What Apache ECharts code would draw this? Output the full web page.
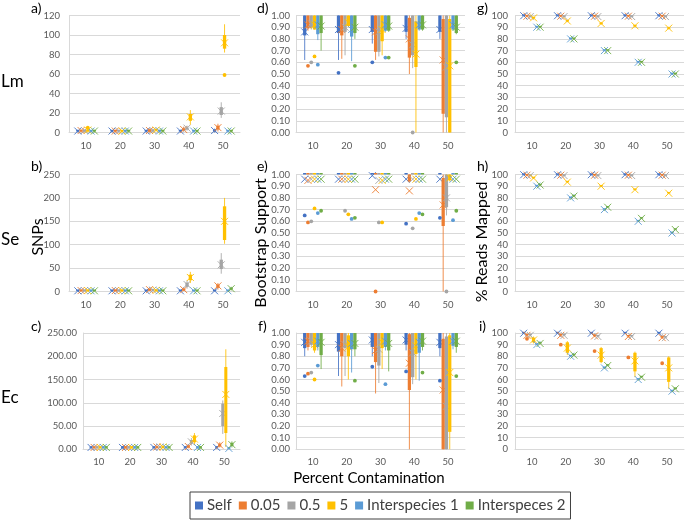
<!DOCTYPE html>
<html><head><meta charset="utf-8">
<script src="https://cdn.jsdelivr.net/npm/echarts@6/dist/echarts.min.js"></script>
<style>html,body{margin:0;padding:0;background:#fff}#c{width:685px;height:523px}</style>
</head><body><div id="c"></div>
<script>
const categories = ['10', '20', '30', '40', '50'];
const groups = ['Self', '0.05', '0.5', '5', 'Interspecies 1', 'Interspeces 2'];
const colors = ['#4472C4', '#ED7D31', '#A5A5A5', '#FFC000', '#5B9BD5', '#70AD47'];

// Each panel: one row per group, one box per category: [min, q1, median, q3, max, mean]
const lmSNPs = [
  [[0,1,1,2,3,1.5],[0,1,1,2,3,1.5],[0,1,1,2,3,1.5],[0,1,1,2,3,1.5],[0,1,2,3,4,2]],
  [[0,1,2,2,3,2],[0,1,1,2,3,1.5],[0,1,2,3,4,2],[1,2,3,4,6,3],[1,3,5,7,9,5]],
  [[0,1,2,3,3,2],[0,1,1,2,3,1.5],[0,1,2,3,4,2],[2,3,4,5,7,4.5],[15,18,22,26,31,22]],
  [[0,1,2,3,4,2.5],[0,1,2,2,3,1.5],[1,2,3,3,4,2.5],[8,12,15,19,23,16],[82,86,92,100,111,92]],
  [[0,1,1,2,3,1.5],[0,1,1,2,3,1.5],[0,1,1,2,3,1.5],[0,1,1,2,3,1.5],[0,1,1,2,3,1.5]],
  [[0,1,1,2,3,1.5],[0,1,1,2,3,1.5],[0,1,1,2,3,1.5],[0,1,1,2,3,1.5],[0,1,1,2,3,1.5]]
];
const lmSNPsOut = [[0,3,5],[4,3,59]];

const seSNPs = [
  [[0,1,1,2,3,1.5],[0,1,1,2,3,1.5],[0,1,1,2,3,1.5],[0,1,1,2,3,1.5],[0,1,1,2,3,1.5]],
  [[0,1,2,3,4,2],[0,1,2,3,4,2],[1,2,4,5,7,4],[1,2,4,6,8,4],[4,8,12,15,18,12]],
  [[0,1,2,3,4,2],[0,1,2,3,4,2],[1,2,3,4,6,3],[6,10,14,19,24,15],[38,48,58,68,82,57]],
  [[0,1,2,3,4,2],[0,1,2,3,4,2],[0,1,2,3,5,2.5],[18,24,30,36,42,30],[102,110,150,182,200,150]],
  [[0,1,1,2,3,1.5],[0,1,1,2,3,1.5],[0,1,1,2,3,1.5],[0,1,1,2,3,1.5],[0,1,1,2,3,1.5]],
  [[0,1,1,2,3,1.5],[0,1,1,2,3,1.5],[0,1,1,2,3,1.5],[0,1,1,2,3,1.5],[2,4,6,8,10,6]]
];
const seSNPsOut = [];

const ecSNPs = [
  [[1,3,4,5,7,4],[1,3,4,5,7,4],[1,3,4,5,7,4],[1,3,4,5,7,4],[1,3,4,5,7,4]],
  [[1,3,4,5,7,4],[1,3,4,5,7,4],[1,3,5,6,8,5],[2,4,6,8,10,6],[4,6,9,12,15,9]],
  [[1,3,4,5,7,4],[1,3,4,5,7,4],[1,3,4,6,8,5],[8,12,16,20,24,16],[33,50,75,98,105,77]],
  [[1,3,4,5,7,4],[1,3,4,5,7,4],[1,3,5,7,9,5],[10,15,22,30,35,22],[5,35,110,177,215,118]],
  [[1,3,4,5,7,4],[1,3,4,5,7,4],[1,3,4,5,7,4],[1,3,4,5,7,4],[0,1,2,3,4,2]],
  [[1,3,4,5,7,4],[1,3,4,5,7,4],[1,3,4,5,7,4],[1,3,4,5,7,4],[4,7,10,14,17,10]]
];
const ecSNPsOut = [];

const lmBoot = [
  [[0.62,0.83,0.95,1,1,0.86],[0.62,0.85,0.95,1,1,0.88],[0.76,0.86,0.95,1,1,0.88],[0.80,0.86,0.95,1,1,0.89],[0.80,0.86,0.95,1,1,0.88]],
  [[0.87,0.89,0.95,1,1,0.92],[0.63,0.83,0.93,1,1,0.88],[0.62,0.69,0.88,1,1,0.86],[0.50,0.64,0.85,0.98,1,0.80],[0,0.16,0.70,0.97,1,0.62]],
  [[0.88,0.90,0.95,1,1,0.93],[0.66,0.86,0.95,1,1,0.90],[0.65,0.69,0.90,1,1,0.86],[0.55,0.66,0.85,1,1,0.75],[0,0.13,0.70,1,1,0.56]],
  [[0.88,0.88,0.95,1,1,0.92],[0.90,0.91,0.97,1,1,0.94],[0.66,0.78,0.92,1,1,0.88],[0,0.56,0.80,0.95,1,0.67],[0,0,0.75,0.97,1,0.57]],
  [[0.79,0.84,0.95,1,1,0.92],[0.61,0.82,0.93,1,1,0.88],[0.86,0.87,0.95,1,1,0.92],[0.87,0.88,0.95,1,1,0.92],[0.87,0.88,0.95,1,1,0.92]],
  [[0.70,0.85,0.95,1,1,0.91],[0.80,0.85,0.95,1,1,0.90],[0.86,0.87,0.95,1,1,0.91],[0.87,0.88,0.95,1,1,0.92],[0.84,0.85,0.95,1,1,0.90]]
];
const lmBootOut = [[0,1,0.57],[0,2,0.60],[0,3,0.65],[0,4,0.58],[1,0,0.51],[1,5,0.57],[2,0,0.60],[2,4,0.64],[2,5,0.64],[3,2,0.00],[4,5,0.60]];

const seBoot = [
  [[1,1,1,1,1,0.96],[1,1,1,1,1,0.96],[1,1,1,1,1,0.99],[1,1,1,1,1,0.96],[1,1,1,1,1,0.96]],
  [[1,1,1,1,1,0.95],[1,1,1,1,1,0.96],[1,1,1,1,1,0.87],[0.93,0.94,1,1,1,0.86],[0,0.56,0.90,0.97,1,0.74]],
  [[1,1,1,1,1,0.96],[1,1,1,1,1,0.96],[1,1,1,1,1,0.95],[1,1,1,1,1,0.96],[0.65,0.72,0.90,1,1,0.80]],
  [[1,1,1,1,1,0.96],[1,1,1,1,1,0.96],[1,1,1,1,1,0.95],[1,1,1,1,1,0.96],[0.94,0.95,1,1,1,0.97]],
  [[1,1,1,1,1,0.96],[1,1,1,1,1,0.96],[1,1,1,1,1,0.96],[1,1,1,1,1,0.96],[1,1,1,1,1,0.96]],
  [[1,1,1,1,1,0.96],[1,1,1,1,1,0.96],[1,1,1,1,1,0.96],[1,1,1,1,1,0.96],[1,1,1,1,1,0.96]]
];
const seBootOut = [[0,0,0.65],[0,1,0.59],[0,2,0.60],[0,3,0.71],[0,4,0.67],[0,5,0.69],
  [1,2,0.69],[1,3,0.66],[1,4,0.62],[1,5,0.63],[2,1,0.00],[2,2,0.59],[2,3,0.59],
  [3,0,0.58],[3,2,0.54],[3,3,0.62],[3,4,0.67],[3,5,0.66],[4,0,0.63],[4,2,0.00],[4,4,0.61],[4,5,0.69]];

const ecBoot = [
  [[0.80,0.87,0.95,1,1,0.92],[0.63,0.84,0.93,1,1,0.90],[0.80,0.88,0.96,1,1,0.94],[0.85,0.90,0.97,1,1,0.94],[0.80,0.87,0.95,1,1,0.92]],
  [[0.85,0.88,0.95,1,1,0.93],[0.54,0.80,0.92,1,1,0.87],[0.48,0.75,0.90,1,1,0.85],[0,0.51,0.85,0.99,1,0.74],[0,0,0.55,0.95,1,0.51]],
  [[0.88,0.90,0.96,1,1,0.93],[0.63,0.87,0.95,1,1,0.90],[0.57,0.72,0.90,1,1,0.86],[0.56,0.62,0.88,1,1,0.83],[0,0,0.30,0.97,1,0.37]],
  [[0.83,0.85,0.93,1,1,0.90],[0.60,0.80,0.92,0.98,1,0.88],[0.69,0.87,0.95,1,1,0.92],[0.60,0.82,0.93,1,1,0.89],[0,0.15,0.80,0.98,1,0.66]],
  [[0.85,0.88,0.95,1,1,0.93],[0.66,0.86,0.95,1,1,0.91],[0.85,0.88,0.95,1,1,0.93],[0.59,0.83,0.95,1,1,0.92],[0.86,0.89,0.96,1,1,0.93]],
  [[0.69,0.81,0.95,1,1,0.92],[0.80,0.86,0.95,1,1,0.91],[0.67,0.85,0.95,1,1,0.91],[0.85,0.88,0.96,1,1,0.93],[0.83,0.88,0.96,1,1,0.93]]
];
const ecBootOut = [[0,0,0.63],[0,1,0.65],[0,2,0.66],[0,3,0.60],[0,4,0.72],[1,5,0.59],[2,0,0.71],[2,4,0.56],[3,0,0.67],[3,5,0.66],[4,0,0.59],[4,5,0.63]];

const lmReads = [
  [[99.5,99.7,100,100,100,99.8],[99.5,99.7,100,100,100,99.8],[99.5,99.7,100,100,100,99.8],[99.5,99.7,100,100,100,99.8],[99.5,99.7,100,100,100,99.8]],
  [[99,99.2,99.6,100,100,99.4],[99,99.2,99.6,100,100,99.4],[99,99.2,99.6,100,100,99.4],[99,99.2,99.6,100,100,99.4],[99,99.2,99.6,100,100,99.4]],
  [[98.5,98.8,99.2,99.6,100,99.1],[98.5,98.8,99.2,99.6,100,99.1],[98.5,98.8,99.2,99.6,100,99.1],[98.5,98.8,99.2,99.6,100,99.1],[98.5,98.8,99.2,99.6,100,99.1]],
  [[97,97.5,98,98.5,99,98],[94.3,94.8,95.3,95.8,96.3,95.3],[92,92.7,93.2,93.8,94.5,93.2],[90,90.6,91.2,91.8,92.4,91.2],[88,88.6,89.2,89.8,90.4,89.2]],
  [[89.8,89.9,90,90.1,90.2,90],[79.8,79.9,80,80.1,80.2,80],[69.8,69.9,70,70.1,70.2,70],[59.8,59.9,60,60.1,60.2,60],[49.8,49.9,50,50.1,50.2,50]],
  [[89.8,89.9,90,90.1,90.2,90],[79.8,79.9,80,80.1,80.2,80],[69.8,69.9,70,70.1,70.2,70],[59.8,59.9,60,60.1,60.2,60],[49.8,49.9,50,50.1,50.2,50]]
];
const lmReadsOut = [];

const seReads = [
  [[99.5,99.7,100,100,100,99.8],[99.5,99.7,100,100,100,99.8],[99.5,99.7,100,100,100,99.8],[99.5,99.7,100,100,100,99.8],[99.5,99.7,100,100,100,99.8]],
  [[99,99.2,99.6,100,100,99.4],[99,99.2,99.6,100,100,99.4],[99,99.2,99.6,100,100,99.4],[99,99.2,99.6,100,100,99.4],[99,99.2,99.6,100,100,99.4]],
  [[98.5,98.8,99.2,99.6,100,99.1],[98.5,98.8,99.2,99.6,100,99.1],[98.5,98.8,99.2,99.6,100,99.1],[98.5,98.8,99.2,99.6,100,99.1],[98.5,98.8,99.2,99.6,100,99.1]],
  [[96.6,96.8,97,97.2,97.4,97],[93.1,93.3,93.5,93.7,93.9,93.5],[89.6,89.8,90,90.2,90.4,90],[86.6,86.8,87,87.2,87.4,87],[83.6,83.8,84,84.2,84.4,84]],
  [[89.8,89.9,90,90.1,90.2,90],[79.8,79.9,80,80.1,80.2,80],[69.8,69.9,70,70.1,70.2,70],[59.8,59.9,60,60.1,60.2,60],[49.8,49.9,50,50.1,50.2,50]],
  [[90.6,90.8,91,91.2,91.4,91],[81.1,81.3,81.5,81.7,81.9,81.5],[71.6,71.8,72,72.2,72.4,72],[62.1,62.3,62.5,62.7,62.9,62.5],[52.6,52.8,53,53.2,53.4,53]]
];
const seReadsOut = [];

const ecReads = [
  [[99.5,99.7,100,100,100,99.8],[99.5,99.7,100,100,100,99.8],[99.5,99.7,100,100,100,99.8],[99.5,99.7,100,100,100,99.8],[99.5,99.7,100,100,100,99.8]],
  [[97,98,98.5,99,99.5,98],[97,98,98.5,99,99.5,98],[96.5,97.5,98,98.5,99,97.5],[96,97,97.5,98,98.5,97],[95,96,96.5,97,98,96]],
  [[97.5,98,98.5,99,99.5,98],[97.5,98,98.5,99,99.5,98],[96.5,97,97.5,98,98.5,97],[96.5,97,97.5,98,98.5,97],[95.5,96,96.5,97,97.5,96]],
  [[91,92,94,96,97,94],[81,83,88,92,93,87],[74,75,82,87,88,81],[62,67,77,83,84,76],[52,58,72,79,80,70]],
  [[89.8,89.9,90,90.1,90.2,90],[79.8,79.9,80,80.1,80.2,80],[69.8,69.9,70,70.1,70.2,70],[59.8,59.9,60,60.1,60.2,60],[49.8,49.9,50,50.1,50.2,50]],
  [[90.8,90.9,91,91.1,91.2,91],[80.8,80.9,81,81.1,81.2,81],[71.8,71.9,72,72.1,72.2,72],[61.8,61.9,62,62.1,62.2,62],[51.8,51.9,52,52.1,52.2,52]]
];
const ecReadsOut = [[0,1,95],[1,1,90],[2,1,84.5],[3,1,79],[4,1,74]];

const yTicksSNPs = [120, 20];
const yTicksSNPs2 = [250, 50];
const yTicksBoot = [1, 0.1];
const yTicksReads = [100, 10];

const FONT = 'Lato';
const rows = [[15.5, 117], [174.5, 117], [333, 116.3]];
const cols = [[69, 171], [296, 169], [515, 169]];

const panels = [
  {d: lmSNPs, o: lmSNPsOut, t: yTicksSNPs, f: v => v, r: 0, c: 0, m: 9},
  {d: seSNPs, o: seSNPsOut, t: yTicksSNPs2, f: v => v, r: 1, c: 0, m: 9},
  {d: ecSNPs, o: ecSNPsOut, t: yTicksSNPs2, f: v => v.toFixed(2), r: 2, c: 0, left: 83, w: 157, m: 6},
  {d: lmBoot, o: lmBootOut, t: yTicksBoot, f: v => v.toFixed(2), r: 0, c: 1, m: 6},
  {d: seBoot, o: seBootOut, t: yTicksBoot, f: v => v.toFixed(2), r: 1, c: 1, m: 6},
  {d: ecBoot, o: ecBootOut, t: yTicksBoot, f: v => v.toFixed(2), r: 2, c: 1, m: 6},
  {d: lmReads, o: lmReadsOut, t: yTicksReads, f: v => v, r: 0, c: 2, m: 7},
  {d: seReads, o: seReadsOut, t: yTicksReads, f: v => v, r: 1, c: 2, m: 7},
  {d: ecReads, o: ecReadsOut, t: yTicksReads, f: v => v, r: 2, c: 2, m: 7}
];

function boxRender(gi) {
  const color = colors[gi];
  return function (params, api) {
    const c = api.value(0);
    const band = api.size([1, 0])[0];
    const slot = band * 0.097;
    const cx = api.coord([c, 0])[0] + (gi - 2.5) * slot;
    const y = k => api.coord([c, api.value(k)])[1];
    const yMin = y(1), yQ1 = y(2), yQ3 = y(4), yMax = y(5), yMean = y(6);
    const hw = slot * 0.5;
    const s = 3.5;
    const top = Math.min(yQ3, yQ1 - 1.5);
    return {type: 'group', children: [
      {type: 'line', shape: {x1: cx, y1: yMax, x2: cx, y2: yMin}, style: {stroke: color, lineWidth: 1, opacity: 0.85}},
      {type: 'rect', shape: {x: cx - hw, y: top, width: hw * 2, height: yQ1 - top}, style: {fill: color}},
      {type: 'line', shape: {x1: cx - s, y1: yMean - s, x2: cx + s, y2: yMean + s}, style: {stroke: color, lineWidth: 1, opacity: 0.9}},
      {type: 'line', shape: {x1: cx - s, y1: yMean + s, x2: cx + s, y2: yMean - s}, style: {stroke: color, lineWidth: 1, opacity: 0.9}}
    ]};
  };
}
function outRender(gi) {
  const color = colors[gi];
  return function (params, api) {
    const c = api.value(0);
    const band = api.size([1, 0])[0];
    const slot = band * 0.097;
    const cx = api.coord([c, 0])[0] + (gi - 2.5) * slot;
    const cy = api.coord([c, api.value(1)])[1];
    return {type: 'circle', shape: {cx: cx, cy: cy, r: 1.9}, style: {fill: color}};
  };
}

const grid = [], xAxis = [], yAxis = [], series = [];
panels.forEach((p, i) => {
  const left = p.left !== undefined ? p.left : cols[p.c][0];
  const width = p.w !== undefined ? p.w : cols[p.c][1];
  grid.push({left: left, top: rows[p.r][0], width: width, height: rows[p.r][1]});
  xAxis.push({type: 'category', gridIndex: i, data: categories, boundaryGap: true,
    axisLine: {lineStyle: {color: '#D9D9D9'}}, axisTick: {show: false},
    axisLabel: {color: '#595959', fontSize: 9.5, fontFamily: FONT, margin: 8, interval: 0}});
  yAxis.push({type: 'value', gridIndex: i, min: 0, max: p.t[0], interval: p.t[1],
    axisLine: {show: true, lineStyle: {color: '#D9D9D9'}}, axisTick: {show: false},
    splitLine: {lineStyle: {color: '#D9D9D9'}},
    axisLabel: {color: '#595959', fontSize: 9.5, fontFamily: FONT, margin: p.m, formatter: p.f}});
  groups.forEach((g, gi) => {
    series.push({type: 'custom', name: g, xAxisIndex: i, yAxisIndex: i,
      itemStyle: {color: colors[gi]}, renderItem: boxRender(gi),
      encode: {x: 0, y: [1, 2, 3, 4, 5, 6]},
      data: p.d[gi].map((b, ci) => [ci].concat(b))});
    const outs = p.o.filter(o => o[1] === gi).map(o => [o[0], o[2]]);
    if (outs.length) {
      series.push({type: 'custom', name: g, xAxisIndex: i, yAxisIndex: i,
        itemStyle: {color: colors[gi]}, renderItem: outRender(gi),
        encode: {x: 0, y: 1}, data: outs, z: 3});
    }
  });
});

const txt = (x, y, s, size, opts) => Object.assign({type: 'text', x: x, y: y,
  style: {text: s, fontSize: size, fontFamily: FONT, fill: '#000', textVerticalAlign: 'middle'}}, opts || {});
const graphic = [
  txt(1, 82, 'Lm', 17), txt(1, 240, 'Se', 17), txt(1, 398, 'Ec', 17),
  txt(31, 8, 'a)', 14), txt(31, 166, 'b)', 14), txt(31, 326, 'c)', 14),
  txt(257, 8, 'd)', 14), txt(257, 166, 'e)', 14), txt(258, 326, 'f)', 14),
  txt(477, 8, 'g)', 14), txt(477, 166, 'h)', 14), txt(479, 326, 'i)', 14),
  {type: 'text', x: 38, y: 237, rotation: Math.PI / 2,
    style: {text: 'SNPs', fontSize: 16, fontFamily: FONT, fill: '#000', textAlign: 'center', textVerticalAlign: 'middle'}},
  {type: 'text', x: 261, y: 243, rotation: Math.PI / 2,
    style: {text: 'Bootstrap Support', fontSize: 16, fontFamily: FONT, fill: '#000', textAlign: 'center', textVerticalAlign: 'middle'}},
  {type: 'text', x: 482, y: 242, rotation: Math.PI / 2,
    style: {text: '% Reads Mapped', fontSize: 16, fontFamily: FONT, fill: '#000', textAlign: 'center', textVerticalAlign: 'middle'}},
  {type: 'text', x: 369, y: 478,
    style: {text: 'Percent Contamination', fontSize: 15, fontFamily: FONT, fill: '#000', textAlign: 'center', textVerticalAlign: 'middle'}}
];

const chart = echarts.init(document.getElementById('c'));
chart.setOption({
  animation: false,
  backgroundColor: '#fff',
  grid: grid, xAxis: xAxis, yAxis: yAxis, series: series, graphic: graphic,
  legend: {
    left: 190, top: 492, orient: 'horizontal',
    data: groups.map((g, gi) => ({name: g, icon: 'rect', itemStyle: {color: colors[gi]}})),
    itemWidth: 8, itemHeight: 8, itemGap: 7,
    borderColor: '#404040', borderWidth: 1, padding: [6, 5],
    textStyle: {fontSize: 15, color: '#404040', fontFamily: FONT, padding: [0, 0, 0, -1]}
  }
});
</script></body></html>
